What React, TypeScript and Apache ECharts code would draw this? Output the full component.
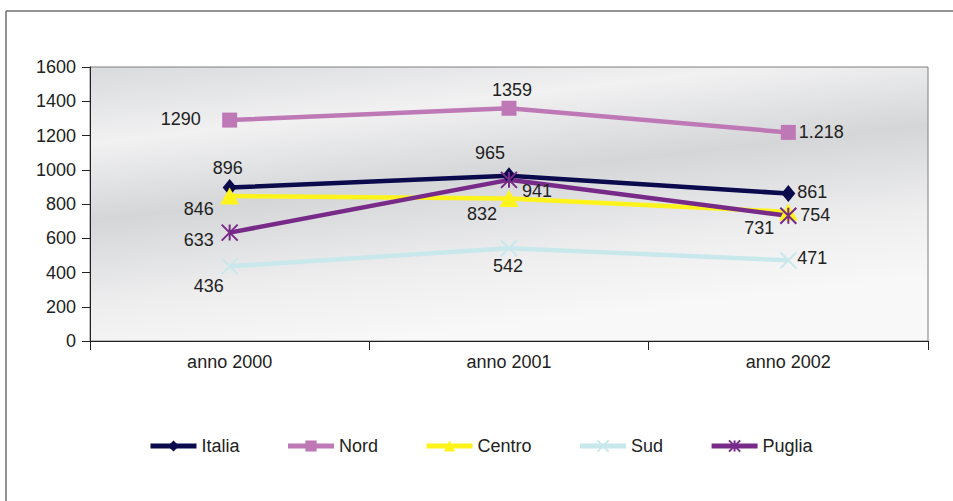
import React, { useEffect, useRef } from "react";
import * as echarts from "echarts";

const categories = ["anno 2000", "anno 2001", "anno 2002"];
const italia = [896, 965, 861];
const nord = [1290, 1359, 1218];
const centro = [846, 832, 754];
const sud = [436, 542, 471];
const puglia = [633, 941, 731];
const nordLabels = ["1290", "1359", "1.218"];
const yTicks = { min: 0, max: 1600, interval: 200 };

// label placement (offset of label centre from point), layout only
const offsets: Record<string, number[][]> = {
  Italia: [[-2, -20], [-19, -23], [24, -2]],
  Nord: [[-49, -1], [3, -18], [33, 0]],
  Centro: [[-31, 13], [-27, 15], [27, 3]],
  Sud: [[-21, 20], [-1, 18], [24, -2]],
  Puglia: [[-31, 7], [28, 11], [-29, 12]],
};

const FONT = "'Liberation Sans', Arial, sans-serif";
const TXT = "#222222";

export default function App() {
  const ref = useRef<HTMLDivElement>(null);
  useEffect(() => {
    if (!ref.current) return;
    const chart = echarts.init(ref.current, undefined, { renderer: "svg" });

    const mk = (
      name: string,
      values: number[],
      color: string,
      symbol: string,
      symbolSize: number | number[],
      strokeOnly: boolean,
      texts?: string[]
    ) => ({
      name,
      type: "line",
      data: values.map((v, i) => ({
        value: v,
        label: {
          offset: offsets[name][i],
          formatter: texts ? texts[i] : String(v),
        },
      })),
      symbol,
      symbolSize,
      showAllSymbol: true,
      lineStyle: { color, width: 4.5 },
      itemStyle: strokeOnly
        ? { color, borderColor: color, borderWidth: 2 }
        : { color, borderWidth: 0 },
      label: {
        show: true,
        position: "inside",
        align: "center",
        verticalAlign: "middle",
        color: TXT,
        fontSize: 18,
        fontFamily: FONT,
      },
      emphasis: { disabled: true },
      z: 3,
    });

    chart.setOption({
      animation: false,
      backgroundColor: "#ffffff",
      textStyle: { fontFamily: FONT },
      grid: {
        left: 90,
        right: 25,
        top: 67,
        bottom: 160,
        show: true,
        borderColor: "#7f7f7f",
        borderWidth: 1,
        backgroundColor: {
          type: "linear",
          x: 0,
          y: 0,
          x2: 0.35,
          y2: 1,
          colorStops: [
            { offset: 0, color: "#d9dadc" },
            { offset: 0.25, color: "#f1f1f2" },
            { offset: 0.5, color: "#d5d6d8" },
            { offset: 0.78, color: "#eeeeef" },
            { offset: 1, color: "#f8f8f8" },
          ],
        },
      },
      graphic: [
        {
          type: "line",
          shape: { x1: 6, y1: 11, x2: 953, y2: 11 },
          style: { stroke: "#6e6e6e", lineWidth: 1.5 },
        },
        {
          type: "line",
          shape: { x1: 6, y1: 11, x2: 6, y2: 501 },
          style: { stroke: "#6e6e6e", lineWidth: 1.5 },
        },
      ],
      legend: {
        left: 143,
        top: 432,
        itemWidth: 46,
        itemHeight: 14,
        itemGap: 46,
        lineStyle: { width: 5 },
        textStyle: { fontSize: 18, color: TXT, fontFamily: FONT },
        data: ["Italia", "Nord", "Centro", "Sud", "Puglia"],
      },
      xAxis: {
        type: "category",
        data: categories,
        boundaryGap: true,
        axisLine: { lineStyle: { color: "#222", width: 1 } },
        axisTick: { show: true, length: 9, lineStyle: { color: "#222" } },
        axisLabel: { color: TXT, fontSize: 18, fontFamily: FONT, margin: 12 },
        splitLine: { show: false },
      },
      yAxis: {
        type: "value",
        min: yTicks.min,
        max: yTicks.max,
        interval: yTicks.interval,
        axisLine: { show: true, lineStyle: { color: "#222", width: 1 } },
        axisTick: { show: true, length: 8, lineStyle: { color: "#222" } },
        axisLabel: {
          color: TXT,
          fontSize: 18,
          fontFamily: FONT,
          margin: 14,
          formatter: (v: number) => String(v),
        },
        splitLine: { show: false },
      },
      series: [
        mk("Italia", italia, "#0a0a4d", "diamond", [14, 17], false),
        mk("Nord", nord, "#be78b6", "rect", 15, false, nordLabels),
        mk("Centro", centro, "#fff31c", "triangle", [19, 17], false),
        mk("Sud", sud, "#c8e8ec", "path://M0,0L10,10M10,0L0,10", 16, true),
        mk(
          "Puglia",
          puglia,
          "#772a88",
          "path://M0,0L10,10M10,0L0,10M5,0L5,10",
          16,
          true
        ),
      ],
    });
    return () => chart.dispose();
  }, []);
  return (
    <div
      ref={ref}
      style={{ position: "fixed", left: 0, top: 0, width: 953, height: 501 }}
    />
  );
}
